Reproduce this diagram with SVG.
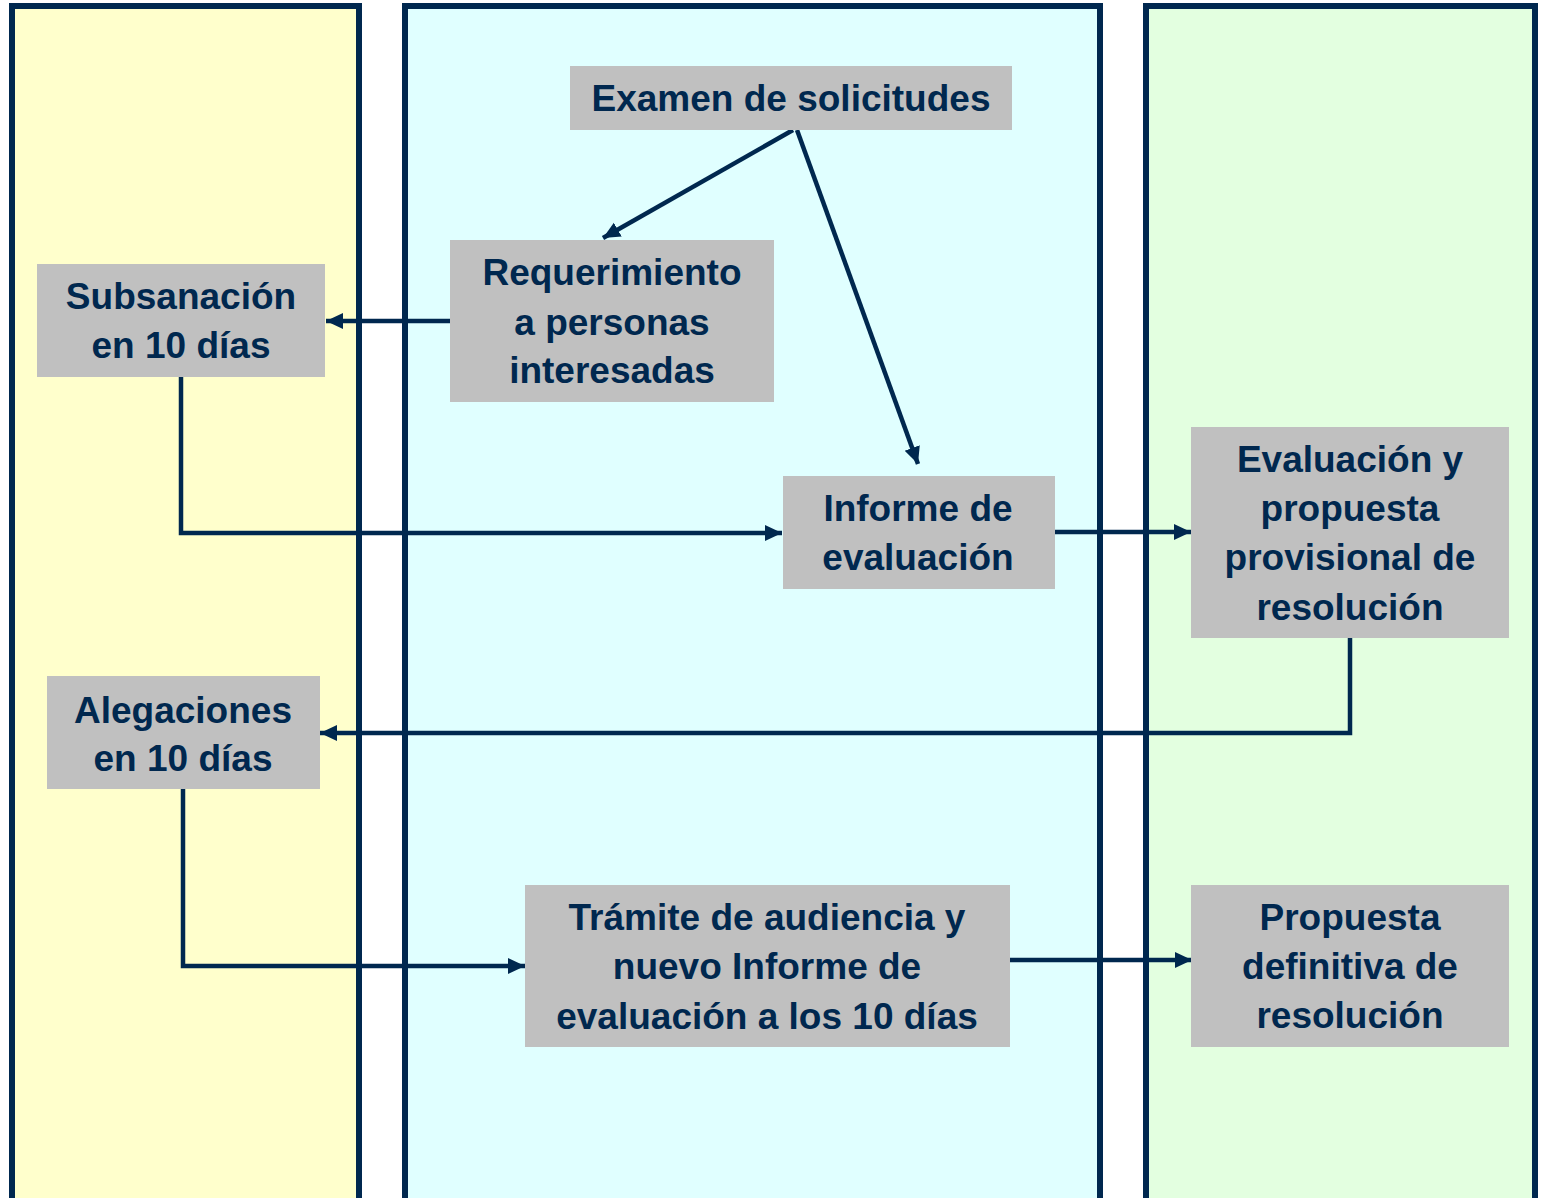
<svg xmlns="http://www.w3.org/2000/svg" width="1543" height="1198" viewBox="0 0 1543 1198">
<defs>
<style>
.lane{stroke:#00284f;stroke-width:6}
.box{fill:#c0c0c0}
.t{font-family:"Liberation Sans",Arial,sans-serif;font-weight:bold;font-size:37px;fill:#00284f;text-anchor:middle}
.c{fill:none;stroke:#00284f;stroke-width:4.5}
</style>
<marker id="ah" markerUnits="userSpaceOnUse" markerWidth="20" markerHeight="18" refX="17" refY="9" orient="auto">
<path d="M0,1 L17,9 L0,17 Z" fill="#00284f"/>
</marker>
</defs>
<rect width="1543" height="1198" fill="#ffffff"/>
<g id="lanes">
<rect class="lane" x="12" y="6" width="347" height="1200" fill="#ffffcc"/>
<rect class="lane" x="405" y="6" width="695" height="1200" fill="#e0ffff"/>
<rect class="lane" x="1146" y="6" width="389" height="1200" fill="#e3ffe0"/>
</g>
<g id="connectors">
<line class="c" x1="793" y1="130" x2="603" y2="238" marker-end="url(#ah)"/>
<line class="c" x1="797" y1="130" x2="918" y2="464" marker-end="url(#ah)"/>
<line class="c" x1="452" y1="321" x2="326" y2="321" marker-end="url(#ah)"/>
<polyline class="c" points="181,377 181,533 782,533" marker-end="url(#ah)"/>
<line class="c" x1="1053" y1="532" x2="1191" y2="532" marker-end="url(#ah)"/>
<polyline class="c" points="1350,638 1350,733 320,733" marker-end="url(#ah)"/>
<polyline class="c" points="183,789 183,966 525,966" marker-end="url(#ah)"/>
<line class="c" x1="1010" y1="960" x2="1192" y2="960" marker-end="url(#ah)"/>
</g>
<g id="examen">
<rect class="box" x="570" y="66" width="442" height="64"/>
<text class="t" x="791" y="111">Examen de solicitudes</text>
</g>
<g id="requerimiento">
<rect class="box" x="450" y="240" width="324" height="162"/>
<text class="t" x="612" y="285">Requerimiento</text>
<text class="t" x="612" y="335">a personas</text>
<text class="t" x="612" y="383">interesadas</text>
</g>
<g id="subsanacion">
<rect class="box" x="37" y="264" width="288" height="113"/>
<text class="t" x="181" y="309">Subsanación</text>
<text class="t" x="181" y="358">en 10 días</text>
</g>
<g id="informe">
<rect class="box" x="783" y="476" width="272" height="113"/>
<text class="t" x="918" y="521">Informe de</text>
<text class="t" x="918" y="570">evaluación</text>
</g>
<g id="evaluacion">
<rect class="box" x="1191" y="427" width="318" height="211"/>
<text class="t" x="1350" y="472">Evaluación y</text>
<text class="t" x="1350" y="521">propuesta</text>
<text class="t" x="1350" y="570">provisional de</text>
<text class="t" x="1350" y="620">resolución</text>
</g>
<g id="alegaciones">
<rect class="box" x="47" y="676" width="273" height="113"/>
<text class="t" x="183" y="723">Alegaciones</text>
<text class="t" x="183" y="771">en 10 días</text>
</g>
<g id="tramite">
<rect class="box" x="525" y="885" width="485" height="162"/>
<text class="t" x="767" y="930">Trámite de audiencia y</text>
<text class="t" x="767" y="979">nuevo Informe de</text>
<text class="t" x="767" y="1029">evaluación a los 10 días</text>
</g>
<g id="propuesta">
<rect class="box" x="1191" y="885" width="318" height="162"/>
<text class="t" x="1350" y="930">Propuesta</text>
<text class="t" x="1350" y="979">definitiva de</text>
<text class="t" x="1350" y="1028">resolución</text>
</g>
</svg>
